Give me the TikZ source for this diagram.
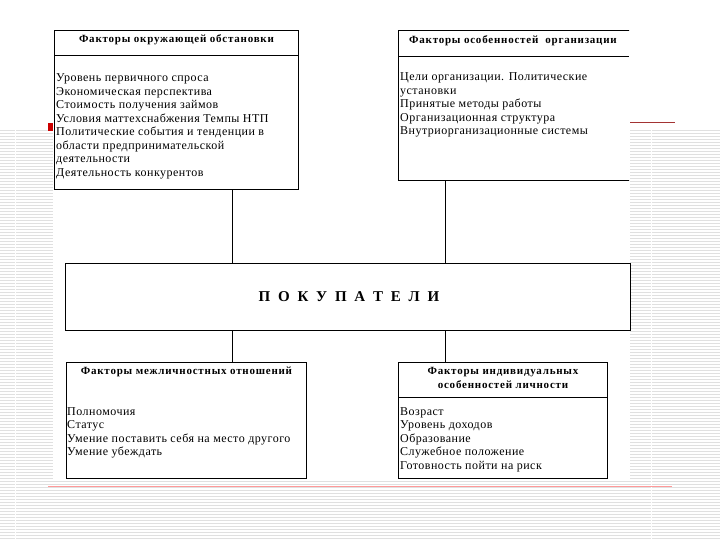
\documentclass[tikz,border=0pt]{standalone}
\usepackage{fontspec}
\setmainfont{Liberation Serif}
\usepackage{tikz}
\usetikzlibrary{calc}
\usetikzlibrary{positioning}

\begin{document}
\begin{tikzpicture}[x=1pt,y=-1pt,
    factor/.style={draw=black,line width=1pt,fill=white,inner sep=0pt,anchor=north west},
    head/.style={font=\fontsize{11}{12}\selectfont\bfseries\addfontfeature{LetterSpace=7},inner sep=0pt,anchor=base},
    item/.style={font=\fontsize{12}{13.5}\selectfont\addfontfeature{LetterSpace=4},inner sep=0pt,anchor=base west},
    link/.style={draw=black,line width=0.8pt},
    stripe/.style={draw=black!12,line width=1.5pt}]
  \useasboundingbox (0,0) rectangle (720,540);
  \fill[white] (0,0) rectangle (720,540);

  % slide background
  \foreach \y in {130.5,133.5,...,539}
  {
    \draw[stripe] (0,\y) -- (53,\y);
    \draw[stripe] (630,\y) -- (720,\y);
  }
  \foreach \y in {481.5,484.5,...,539}
    \draw[stripe] (53,\y) -- (630,\y);
  \draw[white,line width=1pt] (15,129) -- (15,540);% gaps in the stripes
  \draw[white,line width=1pt] (651,129) -- (651,540);
  \fill[red!80!black] (48,123) rectangle (53,131);
  \draw[red!55!black!80,line width=1pt] (630,122.5) -- (675,122.5);
  \draw[red!40!white,line width=0.8pt] (48,486.5) -- (672,486.5);

  % the factor boxes
  \node[factor,minimum width=244,minimum height=159] (env) at (54,30) {};
  \begin{scope}
    \clip (0,0) rectangle (629,540);
    \node[factor,minimum width=240,minimum height=150] (org) at (398,30) {};
  \end{scope}
  \node[factor,minimum width=565,minimum height=67] (buyers) at (65,263) {};
  \node[factor,minimum width=240,minimum height=116] (inter) at (66,362) {};
  \node[factor,minimum width=209,minimum height=116] (indiv) at (398,362) {};

  \node[font=\fontsize{15}{17}\selectfont\bfseries\addfontfeature{LetterSpace=27},inner sep=0pt] (buyerstext) at ($(buyers.center)+(1,0)$) {П О К У П А Т Е Л И};

  % connectors
  \coordinate (lft) at (232,0);
  \coordinate (rgt) at (445,0);
  \draw[link] (env.south -| lft) -- (buyers.north -| lft);
  \draw[link] (org.south -| rgt) -- (buyers.north -| rgt);
  \draw[link] (buyers.south -| lft) -- (inter.north -| lft);
  \draw[link] (buyers.south -| rgt) -- (indiv.north -| rgt);

  % titles
  \node[head] (envhead) at ($(env.north)+(0,13)$) {Факторы окружающей обстановки};
  \node[head] (orghead) at ($(org.north west)+(115,14)$) {Факторы особенностей \ организации};
  \node[head] (interhead) at ($(inter.north)+(0,12)$) {Факторы межличностных отношений};
  \node[head] (indivhead1) at ($(indiv.north)+(0,12)$) {Факторы индивидуальных};
  \node[head] (indivhead2) at ($(indiv.north)+(0,26)$) {особенностей личности};
  \draw[link] ($(env.north west)+(0,25.5)$) -- ($(env.north east)+(0,25.5)$);
  \draw[link] ($(org.north west)+(0,26)$) -- (629,56);
  \draw[link] ($(indiv.north west)+(0,35)$) -- ($(indiv.north east)+(0,35)$);

  % the lists
  \foreach \t [count=\i from 0] in {Уровень первичного спроса,Экономическая перспектива,Стоимость получения займов,Условия маттехснабжения Темпы НТП,Политические события и тенденции в,области предпринимательской,деятельности,Деятельность конкурентов}
    \node[item] (env-\i) at ($(env.north west)+(2,52+13.5*\i)$) {\t};
  \foreach \t [count=\i from 0] in {Цели организации. Политические,установки,Принятые методы работы,Организационная структура,Внутриорганизационные системы}
    \node[item] (org-\i) at ($(org.north west)+(2,51+13.5*\i)$) {\t};
  \foreach \t [count=\i from 0] in {Полномочия,Статус,Умение поставить себя на место другого,Умение убеждать}
    \node[item] (inter-\i) at ($(inter.north west)+(1,53+13.5*\i)$) {\t};
  \foreach \t [count=\i from 0] in {Возраст,Уровень доходов,Образование,Служебное положение,Готовность пойти на риск}
    \node[item] (indiv-\i) at ($(indiv.north west)+(2,53+13.5*\i)$) {\t};

\end{tikzpicture}
\end{document}
